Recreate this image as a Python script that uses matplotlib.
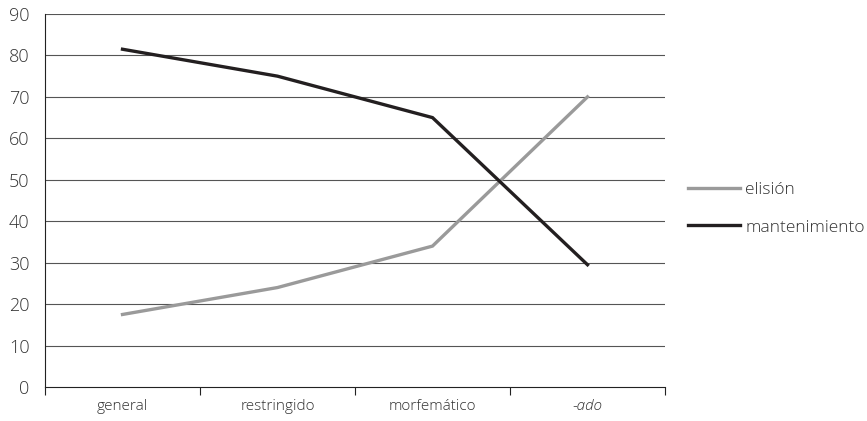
import matplotlib
matplotlib.use("Agg")
import matplotlib.pyplot as plt

categories = ["general", "restringido", "morfemático", "-ado"]
elision = [17.5, 24, 34, 70]
mantenimiento = [81.5, 75, 65, 29.5]
yticks = [0, 10, 20, 30, 40, 50, 60, 70, 80, 90]

plt.rcParams['font.family'] = ['Open Sans', 'DejaVu Sans']
plt.rcParams['font.weight'] = 'light'

fig = plt.figure(figsize=(8.67, 4.21), dpi=100)
ax = fig.add_axes([45/867, 1-387/421, (665-45)/867, (387-14)/421])

x = list(range(len(categories)))
ax.plot(x, elision, color="#9a9a9a", lw=2.4, label="elisión", solid_joinstyle="miter")
ax.plot(x, mantenimiento, color="#231f20", lw=2.4, label="mantenimiento", solid_joinstyle="miter")

ax.set_xlim(-0.5, len(categories) - 0.5)
ax.set_ylim(0, 90)
ax.set_yticks(yticks)
ax.set_yticklabels([str(v) for v in yticks], fontsize=13, color="#333333", fontweight='light')
ax.tick_params(axis='y', length=0, pad=11)
for v in yticks[1:]:
    ax.axhline(v, color="#555555", lw=0.8, zorder=0)

ax.set_xticks(x)
ax.set_xticklabels(categories, fontsize=11, color="#333333", fontweight='light')
for lbl in ax.get_xticklabels():
    if lbl.get_text() == "-ado":
        lbl.set_style("italic")
ax.tick_params(axis='x', which='major', length=0, pad=9)
ax.set_xticks([i - 0.5 for i in range(len(categories) + 1)], minor=True)
ax.tick_params(axis='x', which='minor', length=6, width=0.8, color="#222222", direction='out')

for s in ["top", "right"]:
    ax.spines[s].set_visible(False)
ax.spines["left"].set_color("#222222")
ax.spines["bottom"].set_color("#222222")
ax.spines["left"].set_linewidth(0.8)
ax.spines["bottom"].set_linewidth(0.8)

leg = fig.legend(loc="center left", bbox_to_anchor=(688/867, 1-208.5/421), frameon=False,
           prop={'size': 12.5, 'weight': 'light'}, handlelength=3.0, handletextpad=0.3,
           labelspacing=1.25, borderpad=0, borderaxespad=0, labelcolor="#333333")

fig.savefig("out.png", dpi=100)
